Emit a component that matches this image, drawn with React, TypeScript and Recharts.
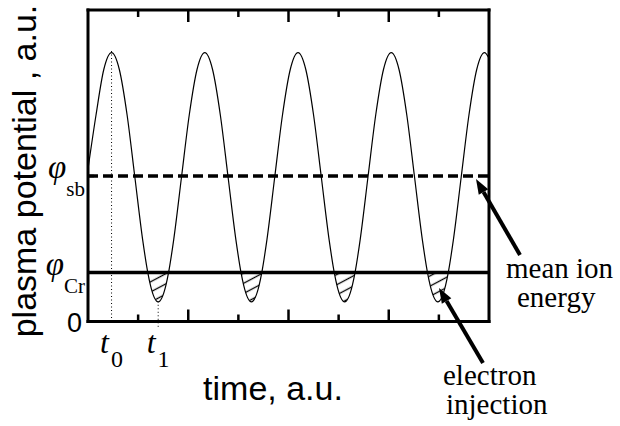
import { ComposedChart, Line, Area, XAxis, YAxis, ReferenceLine } from 'recharts';

// time (a.u.) and plasma potential (a.u.)
const timeValues = [
  0.0, 0.16, 0.315, 0.47, 0.625, 0.78, 0.935, 1.09, 1.193, 1.245, 1.4, 1.555, 1.607, 1.71, 1.865,
  2.02, 2.175, 2.33, 2.485, 2.64, 2.795, 2.95, 3.053, 3.105, 3.26, 3.415, 3.467, 3.57, 3.725,
  3.88, 4.035, 4.19, 4.345, 4.5, 4.655, 4.81, 4.913, 4.965, 5.12, 5.275, 5.327, 5.43, 5.585,
  5.74, 5.895, 6.05, 6.205, 6.36, 6.515, 6.67, 6.773, 6.825, 6.98, 7.135, 7.187, 7.29, 7.445,
  7.6, 7.755, 7.91, 8.0,
];
const potentialValues = [
  4.9, 6.63, 8.09, 8.63, 8.09, 6.63, 4.63, 2.63, 1.57, 1.17, 0.63, 1.17, 1.57, 2.63, 4.63,
  6.63, 8.09, 8.63, 8.09, 6.63, 4.63, 2.63, 1.57, 1.17, 0.63, 1.17, 1.57, 2.63, 4.63,
  6.63, 8.09, 8.63, 8.09, 6.63, 4.63, 2.63, 1.57, 1.17, 0.63, 1.17, 1.57, 2.63, 4.63,
  6.63, 8.09, 8.63, 8.09, 6.63, 4.63, 2.63, 1.57, 1.17, 0.63, 1.17, 1.57, 2.63, 4.63,
  6.63, 8.09, 8.63, 8.45,
];

const phiSb = 4.67; // mean ion energy
const phiCr = 1.57; // electron injection threshold

const xTicks = [1, 2, 3, 4, 5, 6, 7];
const tMarks = [0.47, 1.4];
const tSubs = ['0', '1'];
const tPeakTop = 8.75;
const tTroughLow = -0.17;
const troughValue = 0.63;

const yTickValues = [0, phiCr, phiSb];
const yTickMain = ['0', 'φ', 'φ'];
const yTickSubs = ['', 'Cr', 'sb'];
const rightTicks = [5.2];

const data = timeValues.map((t, i) => ({
  t,
  potential: potentialValues[i],
  hatch: [Math.min(potentialValues[i], phiCr), phiCr],
}));

const SANS = '"Liberation Sans", Arial, sans-serif';
const SERIF = '"Liberation Serif", "Times New Roman", serif';

// axes are 1px thick bands, so ticks start 1px off the frame line
function FrameTick(props: any) {
  const { x, y, payload, dir } = props;
  const y0 = y + dir; // back onto the frame line
  const len = payload.value % 2 === 0 ? 11 : 6;
  return <line x1={x} x2={x} y1={y0} y2={y0 + dir * len} stroke="#000" strokeWidth={2.5} />;
}

function TTick(props: any) {
  const { x, y, index } = props;
  return (
    <text x={x} y={y + 30} textAnchor="middle" fontFamily={SERIF} fill="#000">
      <tspan fontSize={32} fontStyle="italic">t</tspan>
      <tspan fontSize={24} dy={14} dx={2}>{tSubs[index]}</tspan>
    </text>
  );
}

function YTick(props: any) {
  const { x, y, index } = props;
  const x0 = x + 1;
  if (index === 0) {
    return (
      <text x={x0 - 7} y={y + 10} textAnchor="end" fontFamily={SANS} fontSize={27} fill="#000">
        {yTickMain[index]}
      </text>
    );
  }
  return (
    <g>
      <line x1={x0} x2={x0 + 5} y1={y} y2={y} stroke="#000" strokeWidth={2.5} />
      <text x={x0 - 4} y={y + 2} textAnchor="end" fontFamily={SERIF} fill="#000">
        <tspan fontSize={33} fontStyle="italic">{yTickMain[index]}</tspan>
        <tspan fontSize={21} dy={18}>{yTickSubs[index]}</tspan>
      </text>
    </g>
  );
}

function RightTick(props: any) {
  const { x, y } = props;
  const x0 = x - 1;
  return <line x1={x0} x2={x0 - 5} y1={y} y2={y} stroke="#000" strokeWidth={2.5} />;
}

function Arrow({ x1, y1, x2, y2 }: { x1: number; y1: number; x2: number; y2: number }) {
  const dx = x2 - x1;
  const dy = y2 - y1;
  const d = Math.sqrt(dx * dx + dy * dy);
  const ux = dx / d;
  const uy = dy / d;
  const hl = 15;
  const hw = 5.5;
  const bx = x2 - ux * hl;
  const by = y2 - uy * hl;
  return (
    <g>
      <line x1={x1} y1={y1} x2={bx} y2={by} stroke="#000" strokeWidth={4} />
      <polygon
        points={`${x2},${y2} ${bx - uy * hw},${by + ux * hw} ${bx + uy * hw},${by - ux * hw}`}
        fill="#000"
      />
    </g>
  );
}

const axisLine = { stroke: '#000', strokeWidth: 3, strokeLinecap: 'square' as const };

export default function App() {
  return (
    <div style={{ position: 'absolute', left: 0, top: 0, width: 620, height: 426, background: '#fff' }}>
      <ComposedChart
        width={620}
        height={426}
        data={data}
        margin={{ top: 9, right: 130, bottom: 102.5, left: 87 }}
      >
        <defs>
          <pattern id="hatch" patternUnits="userSpaceOnUse" width="20" height="9" patternTransform="rotate(-28)">
            <line x1="0" y1="4.5" x2="20" y2="4.5" stroke="#000" strokeWidth="1.3" />
          </pattern>
        </defs>
        <XAxis
          xAxisId="bottom"
          dataKey="t"
          type="number"
          domain={[0, 8]}
          ticks={xTicks}
          height={1}
          tickSize={0}
          tickMargin={0}
          tickLine={false}
          axisLine={axisLine}
          tick={<FrameTick dir={-1} />}
        />
        <XAxis
          xAxisId="top"
          orientation="top"
          dataKey="t"
          type="number"
          domain={[0, 8]}
          ticks={xTicks}
          height={1}
          tickSize={0}
          tickMargin={0}
          tickLine={false}
          axisLine={axisLine}
          tick={<FrameTick dir={1} />}
        />
        <XAxis
          xAxisId="tlabels"
          dataKey="t"
          type="number"
          domain={[0, 8]}
          ticks={tMarks}
          height={1}
          tickSize={0}
          tickMargin={0}
          tickLine={false}
          axisLine={false}
          tick={<TTick />}
        />
        <YAxis
          yAxisId="left"
          type="number"
          domain={[0, 10]}
          ticks={yTickValues}
          width={1}
          tickSize={0}
          tickMargin={0}
          tickLine={false}
          axisLine={axisLine}
          tick={<YTick />}
        />
        <YAxis
          yAxisId="right"
          orientation="right"
          type="number"
          domain={[0, 10]}
          ticks={rightTicks}
          width={1}
          tickSize={0}
          tickMargin={0}
          tickLine={false}
          axisLine={axisLine}
          tick={<RightTick />}
        />
        <Area
          xAxisId="bottom"
          yAxisId="left"
          dataKey="hatch"
          type="monotone"
          stroke="none"
          fill="url(#hatch)"
          fillOpacity={1}
          isAnimationActive={false}
        />
        <ReferenceLine
          xAxisId="bottom"
          yAxisId="left"
          segment={[{ x: tMarks[0], y: 0 }, { x: tMarks[0], y: tPeakTop }]}
          stroke="#000"
          strokeWidth={1}
          strokeDasharray="1 2.5"
          ifOverflow="visible"
        />
        <ReferenceLine
          xAxisId="bottom"
          yAxisId="left"
          segment={[{ x: tMarks[1], y: tTroughLow }, { x: tMarks[1], y: troughValue }]}
          stroke="#000"
          strokeWidth={1}
          strokeDasharray="1 2.5"
          ifOverflow="visible"
        />
        <ReferenceLine xAxisId="bottom" yAxisId="left" y={phiSb} stroke="#000" strokeWidth={3.5} strokeDasharray="10 5" />
        <ReferenceLine xAxisId="bottom" yAxisId="left" y={phiCr} stroke="#000" strokeWidth={3.5} />
        <Line
          xAxisId="bottom"
          yAxisId="left"
          dataKey="potential"
          type="monotone"
          stroke="#000"
          strokeWidth={1.2}
          dot={false}
          isAnimationActive={false}
        />
        <text x={36} y={171} transform="rotate(-90 36 171)" textAnchor="middle" fontFamily={SANS} fontSize={34} fill="#000">
          plasma potential , a.u.
        </text>
        <text x={273} y={400} textAnchor="middle" fontFamily={SANS} fontSize={34} fill="#000">
          time, a.u.
        </text>
        <text x={506} y={278} fontFamily={SERIF} fontSize={29} fill="#000">mean ion</text>
        <text x={517} y={307} fontFamily={SERIF} fontSize={29} fill="#000">energy</text>
        <text x={443} y={385} fontFamily={SERIF} fontSize={29} fill="#000">electron</text>
        <text x={446} y={414} fontFamily={SERIF} fontSize={29} fill="#000">injection</text>
        <Arrow x1={520} y1={255} x2={476} y2={179} />
        <Arrow x1={483} y1={363} x2={439} y2={288} />
      </ComposedChart>
    </div>
  );
}
